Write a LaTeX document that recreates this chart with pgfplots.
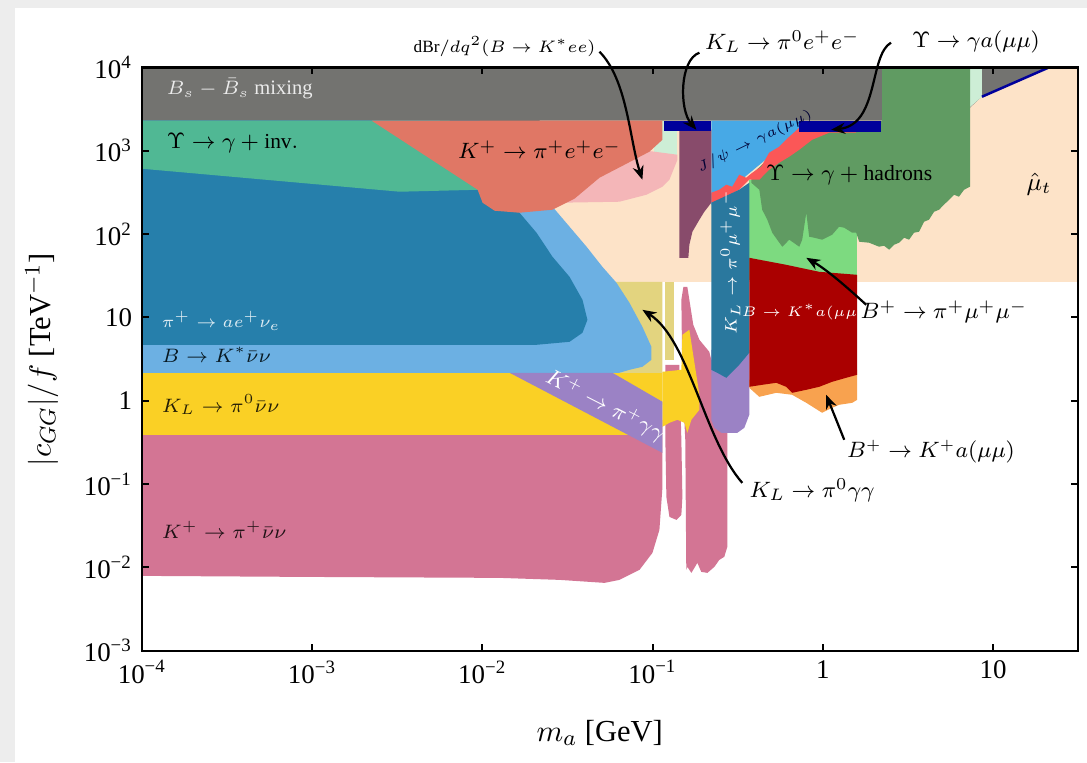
\documentclass[border=0pt]{standalone}
\usepackage{fontspec}
\setmainfont{Liberation Serif}
\usepackage{pgfplots}
\pgfplotsset{compat=1.18}
\usetikzlibrary{arrows.meta}
\tikzset{lab/.style={inner sep=0.5pt}}
\definecolor{cgray}{RGB}{115,115,112}
\definecolor{cpeach}{RGB}{253,227,200}
\definecolor{cpale}{RGB}{205,238,214}
\definecolor{ckhaki}{RGB}{227,212,127}
\definecolor{clblue}{RGB}{108,176,227}
\definecolor{cdblue}{RGB}{38,127,171}
\definecolor{cteal}{RGB}{80,184,148}
\definecolor{cpinkl}{RGB}{244,182,184}
\definecolor{cred}{RGB}{224,119,101}
\definecolor{cpink}{RGB}{211,117,148}
\definecolor{cyellow}{RGB}{250,208,37}
\definecolor{cpurple}{RGB}{155,130,197}
\definecolor{clgreen}{RGB}{125,218,128}
\definecolor{cdgreen}{RGB}{96,155,98}
\definecolor{cjpsi}{RGB}{71,169,230}
\definecolor{cbred}{RGB}{251,87,87}
\definecolor{cnavy}{RGB}{0,0,155}
\definecolor{cmauve}{RGB}{136,75,107}
\definecolor{ctcol}{RGB}{42,120,158}
\definecolor{cdred}{RGB}{170,0,0}
\definecolor{corange}{RGB}{248,162,79}
\newcommand\fs[1]{\fontsize{#1}{#1}\selectfont}
\begin{document}
\begin{tikzpicture}
\fill[black!7] (-51.12pt,-40.07pt) rectangle (340.2pt,234.25pt);
\fill[white] (-45.72pt,-40.07pt) rectangle (340.2pt,231.37pt);
\begin{axis}[
  at={(0,0)}, anchor=south west,
  scale only axis, width=337pt, height=210pt,
  xmin=-4, xmax=1.5, ymin=-3, ymax=4,
  axis on top, clip=false,
  xtick={-4,-3,-2,-1,0,1},
  xticklabels={10\textsuperscript{−4},10\textsuperscript{−3},10\textsuperscript{−2},10\textsuperscript{−1},1,10},
  ytick={-3,-2,-1,0,1,2,3,4},
  yticklabels={10\textsuperscript{−3},10\textsuperscript{−2},10\textsuperscript{−1},1,10,10\textsuperscript{2},10\textsuperscript{3},10\textsuperscript{4}},
  tick label style={font=\fs{9.7}},
  tick align=inside, major tick length=2.5pt,
  axis line style={line width=0.8pt},
  every tick/.style={black, line width=0.7pt},
  xlabel={$m_a$ [GeV]},
  ylabel={$|c_{GG}|/f$ [TeV$^{-1}$]},
  label style={font=\fs{11}},
  xlabel style={at={(axis description cs:0.489,-0.141)}, anchor=center},
  ylabel style={at={(axis description cs:-0.107,0.499)}, anchor=center},
]
% B_s mixing
\addplot[fill=cgray, draw=none] coordinates {(-4,3.36) (1.5,3.36) (1.5,4) (-4,4)};
% mu_t
\addplot[fill=cpeach, draw=none] coordinates {(-1.664,3.36) (0.865,3.36) (0.865,3.516) (0.935,3.648) (1.329,4) (1.5,4) (1.5,1.427) (-1.664,1.427)};
% pale green strips
\addplot[fill=cpale, draw=none] coordinates {(-0.989,3.36) (-0.854,3.36) (-0.854,2.892) (-0.989,2.892)};
\addplot[fill=cpale, draw=none] coordinates {(0.86,4) (0.935,4) (0.935,3.648) (0.86,3.516)};
% K_L -> pi0 gamma gamma
\addplot[fill=ckhaki, draw=none] coordinates {(-1.283,1.427) (-0.942,1.427) (-0.942,-0.049) (-1.283,0.335)};
\addplot[fill=ckhaki, draw=none] coordinates {(-0.925,1.427) (-0.872,1.427) (-0.872,0.491) (-0.925,0.491)};
% B -> K* nu nu
\addplot[fill=clblue, draw=none] coordinates {(-4,3.36) (-2.251,3.36) (-1.588,2.328) (-1.488,2.088) (-1.388,1.848) (-1.295,1.607) (-1.212,1.415) (-1.136,1.175) (-1.060,0.887) (-1.007,0.647) (-1.007,0.491) (-1.060,0.407) (-1.136,0.371) (-1.195,0.335) (-4,0.335)};
% pi+ -> a e nu
\addplot[fill=cdblue, draw=none] coordinates {(-4,3.36) (-2.016,3.36) (-1.958,2.472) (-1.782,2.256) (-1.682,2.016) (-1.588,1.727) (-1.488,1.487) (-1.412,1.211) (-1.383,0.971) (-1.412,0.815) (-1.488,0.707) (-1.682,0.671) (-4,0.671)};
% Upsilon -> gamma + inv
\addplot[fill=cteal, draw=none] coordinates {(-4,3.36) (-2.192,3.36) (-2.016,2.532) (-2.486,2.508) (-4,2.784)};
% dBr/dq2
\addplot[fill=cpinkl, draw=none] coordinates {(-1.547,2.376) (-1.195,2.388) (-1.036,2.472) (-0.942,2.568) (-0.901,2.652) (-0.854,2.892) (-0.854,2.952) (-1.077,3.012) (-1.547,2.412)};
% K+ -> pi+ e e
\addplot[fill=cred, draw=none] coordinates {(-2.650,3.36) (-0.942,3.36) (-0.942,3.132) (-1.019,2.988) (-1.165,2.832) (-1.312,2.676) (-1.459,2.424) (-1.588,2.292) (-1.782,2.256) (-1.928,2.280) (-1.999,2.376) (-2.028,2.532)};
% K+ -> pi+ nu nu
\addplot[fill=cpink, draw=none] coordinates {(-4,-0.229) (-0.942,-0.229) (-0.942,-1.034) (-0.960,-1.550) (-1.001,-1.826) (-1.077,-2.030) (-1.195,-2.150) (-1.283,-2.186) (-1.547,-2.150) (-1.899,-2.126) (-3.073,-2.114) (-4,-2.102)};
\addplot[fill=cpink, draw=none] coordinates {(-0.925,0.431) (-0.843,0.431) (-0.831,-0.469) (-0.825,-1.154) (-0.831,-1.370) (-0.860,-1.430) (-0.901,-1.394) (-0.919,-1.154) (-0.925,-0.469)};
\addplot[fill=cpink, draw=none] coordinates {(-0.802,-2.030) (-0.808,-0.469) (-0.825,0.251) (-0.831,1.211) (-0.819,1.367) (-0.796,1.367) (-0.784,1.211) (-0.761,0.911) (-0.725,0.731) (-0.667,0.587) (-0.655,0.491) (-0.561,0.491) (-0.561,-1.754) (-0.579,-1.874) (-0.608,-1.910) (-0.637,-1.994) (-0.678,-2.066) (-0.714,-2.054) (-0.737,-1.946) (-0.772,-2.066) (-0.796,-1.994)};
% K_L -> pi0 nu nu
\addplot[fill=cyellow, draw=none] coordinates {(-4,0.335) (-0.942,0.335) (-0.942,-0.409) (-4,-0.409)};
\addplot[fill=cyellow, draw=none] coordinates {(-0.942,0.347) (-0.831,0.371) (-0.825,0.791) (-0.784,0.851) (-0.766,0.611) (-0.725,0.071) (-0.725,-0.109) (-0.772,-0.229) (-0.796,-0.385) (-0.813,-0.265) (-0.854,-0.229) (-0.901,-0.265) (-0.942,-0.313)};
% K+ -> pi+ gamma gamma
\addplot[fill=cpurple, draw=none] coordinates {(-1.840,0.335) (-1.236,0.335) (-0.942,-0.013) (-0.942,-0.626)};
% B+ -> pi+ mu mu
\addplot[fill=clgreen, draw=none] coordinates {(-0.432,2.652) (0.202,2.652) (0.202,1.451) (-0.432,1.451)};
% Upsilon -> gamma + hadrons
\addplot[fill=cdgreen, draw=none] coordinates {(-0.420,2.712) (-0.138,3.252) (0.349,3.36) (0.349,4) (0.865,4) (0.865,2.568) (0.830,2.532) (0.800,2.448) (0.771,2.472) (0.742,2.412) (0.712,2.352) (0.683,2.292) (0.654,2.268) (0.624,2.172) (0.595,2.148) (0.566,2.028) (0.536,2.016) (0.507,1.932) (0.478,1.956) (0.448,1.896) (0.419,1.872) (0.390,1.812) (0.360,1.860) (0.331,1.848) (0.272,1.896) (0.214,1.908) (0.196,2.016) (0.173,2.016) (0.126,2.076) (0.096,2.088) (0.055,1.992) (-0.004,1.932) (-0.050,1.956) (-0.080,1.968) (-0.097,2.256) (-0.121,1.932) (-0.138,1.848) (-0.180,1.908) (-0.197,1.932) (-0.238,1.848) (-0.268,1.932) (-0.297,2.016) (-0.326,2.172) (-0.356,2.292) (-0.373,2.532) (-0.420,2.616)};
% J/psi -> gamma a(mu mu)
\addplot[fill=cjpsi, draw=none] coordinates {(-0.655,3.36) (-0.138,3.36) (-0.138,3.228) (-0.655,2.352)};
% red jagged
\addplot[fill=cbred, draw=none] coordinates {(-0.655,2.496) (-0.608,2.532) (-0.567,2.592) (-0.532,2.568) (-0.491,2.712) (-0.450,2.676) (-0.414,2.736) (-0.362,2.808) (-0.315,2.976) (-0.256,3.048) (-0.197,3.168) (-0.138,3.276) (0.196,3.276) (0.196,3.216) (0.038,3.216) (-0.062,3.132) (-0.138,3.012) (-0.197,2.928) (-0.256,2.856) (-0.315,2.772) (-0.373,2.652) (-0.432,2.652) (-0.491,2.532) (-0.567,2.448) (-0.626,2.376) (-0.655,2.376)};
% K_L -> pi0 e e
\addplot[fill=cmauve, draw=none] coordinates {(-0.843,3.252) (-0.655,3.252) (-0.655,2.376) (-0.696,2.268) (-0.725,2.172) (-0.766,2.028) (-0.784,1.872) (-0.790,1.715) (-0.843,1.715)};
% navy bars
\addplot[fill=cnavy, draw=none] coordinates {(-0.931,3.36) (-0.655,3.36) (-0.655,3.24) (-0.931,3.24)};
\addplot[fill=cnavy, draw=none] coordinates {(-0.138,3.36) (0.343,3.36) (0.343,3.228) (-0.138,3.228)};
\addplot[cnavy, line width=0.9pt] coordinates {(0.935,3.648) (1.329,4)};
% purple column
\addplot[fill=cpurple, draw=none] coordinates {(-0.655,0.611) (-0.432,0.611) (-0.432,-0.169) (-0.461,-0.325) (-0.502,-0.385) (-0.596,-0.385) (-0.637,-0.325) (-0.655,-0.229)};
% K_L -> pi0 mu mu
\addplot[fill=ctcol, draw=none] coordinates {(-0.655,2.376) (-0.579,2.448) (-0.491,2.532) (-0.432,2.616) (-0.432,0.575) (-0.491,0.431) (-0.567,0.275) (-0.620,0.335) (-0.655,0.371)};
% B+ -> K+ a(mu mu)
\addplot[fill=corange, draw=none] coordinates {(-0.432,0.251) (0.202,0.371) (0.202,0.011) (0.173,-0.025) (0.096,-0.049) (0.055,-0.085) (-0.004,-0.145) (-0.097,-0.025) (-0.180,0.071) (-0.273,0.095) (-0.373,0.047) (-0.432,0.155)};
% B -> K* a(mu mu)
\addplot[fill=cdred, draw=none] coordinates {(-0.432,1.715) (-0.215,1.631) (-0.021,1.547) (0.202,1.511) (0.202,0.311) (0.137,0.275) (0.055,0.227) (-0.021,0.167) (-0.097,0.131) (-0.180,0.095) (-0.215,0.167) (-0.273,0.215) (-0.356,0.191) (-0.432,0.167)};

% labels
\node[lab, anchor=west, text=black!8, font=\fs{7.4}] at (axis cs:-3.865,3.744) {$B_s-\bar B_s\ \mathrm{mixing}$};
\node[lab, anchor=west, font=\fs{7.7}] at (axis cs:-3.865,3.096) {$\Upsilon\to\gamma+\mathrm{inv.}$};
\node[lab, font=\fs{8.2}] at (axis cs:-1.664,3.012) {$K^+\to\pi^+e^+e^-$};
\node[lab, font=\fs{6.2}] at (axis cs:-1.870,4.249) {$\mathrm{dBr}/dq^2(B\to K^*ee)$};
\node[lab, font=\fs{8.4}] at (axis cs:-0.238,4.309) {$K_L\to\pi^0e^+e^-$};
\node[lab, font=\fs{8.0}] at (axis cs:0.900,4.309) {$\Upsilon\to\gamma a(\mu\mu)$};
\node[lab, rotate=26, text=black!80!blue, font=\fs{4.9}] at (axis cs:-0.400,3.11) {$J/\psi\to\gamma a(\mu\mu)$};
\node[lab, font=\fs{7.8}] at (axis cs:0.155,2.712) {$\Upsilon\to\gamma+\mathrm{hadrons}$};
\node[lab, font=\fs{8.7}] at (axis cs:1.270,2.592) {$\hat\mu_t$};
\node[lab, anchor=west, text=white!85!cdblue, font=\fs{6.3}] at (axis cs:-3.894,0.959) {$\pi^+\to ae^+\nu_e$};
\node[lab, anchor=west, text=black!80!cdblue, font=\fs{6.7}] at (axis cs:-3.894,0.551) {$B\to K^*\bar\nu\nu$};
\node[lab, anchor=west, text=black!85!cyellow, font=\fs{6.6}] at (axis cs:-3.894,-0.049) {$K_L\to\pi^0\bar\nu\nu$};
\node[lab, anchor=west, text=black!85!cpink, font=\fs{6.6}] at (axis cs:-3.894,-1.550) {$K^+\to\pi^+\bar\nu\nu$};
\node[lab, rotate=-27, text=white, font=\fs{7.6}] at (axis cs:-1.277,-0.061) {$K^+\to\pi^+\gamma\gamma$};
\node[lab, rotate=90, text=white, font=\fs{5.6}] at (axis cs:-0.543,1.667) {$K_L\to\pi^0\mu^+\mu^-$};
\node[lab, text=white, font=\fs{5.5}] at (axis cs:-0.115,1.067) {$B\to K^*a(\mu\mu)$};
\node[lab, font=\fs{8.0}] at (axis cs:0.712,1.067) {$B^+\to\pi^+\mu^+\mu^-$};
\node[lab, font=\fs{7.8}] at (axis cs:0.636,-0.614) {$B^+\to K^+a(\mu\mu)$};
\node[lab, font=\fs{8.2}] at (axis cs:-0.062,-1.070) {$K_L\to\pi^0\gamma\gamma$};

% arrows
\draw[-{Stealth[length=5pt,width=4pt]}, line width=0.8pt] (axis cs:-1.312,4.188) .. controls (axis cs:-1.148,3.851) and (axis cs:-1.136,3.132) .. (axis cs:-1.060,2.652);
\draw[-{Stealth[length=5pt,width=4pt]}, line width=0.8pt] (axis cs:-0.725,4.176) .. controls (axis cs:-0.843,4.092) and (axis cs:-0.843,3.491) .. (axis cs:-0.743,3.252);
\draw[-{Stealth[length=5pt,width=4pt]}, line width=0.8pt] (axis cs:0.401,4.297) .. controls (axis cs:0.272,4.152) and (axis cs:0.331,3.312) .. (axis cs:0.049,3.252);
\draw[-{Stealth[length=5pt,width=4pt]}, line width=0.8pt] (axis cs:0.255,1.151) .. controls (axis cs:0.096,1.451) and (axis cs:0.0,1.6) .. (axis cs:-0.097,1.715);
\draw[-{Stealth[length=5pt,width=4pt]}, line width=0.8pt] (axis cs:0.126,-0.469) -- (axis cs:0.020,0.071);
\draw[-{Stealth[length=5pt,width=4pt]}, line width=0.8pt] (axis cs:-0.473,-0.986) .. controls (axis cs:-0.696,-0.469) and (axis cs:-0.784,0.731) .. (axis cs:-1.060,1.091);
\end{axis}
\pgfresetboundingbox
\path (-51.12pt,-40.07pt) rectangle (340.2pt,234.25pt);
\end{tikzpicture}
\end{document}
